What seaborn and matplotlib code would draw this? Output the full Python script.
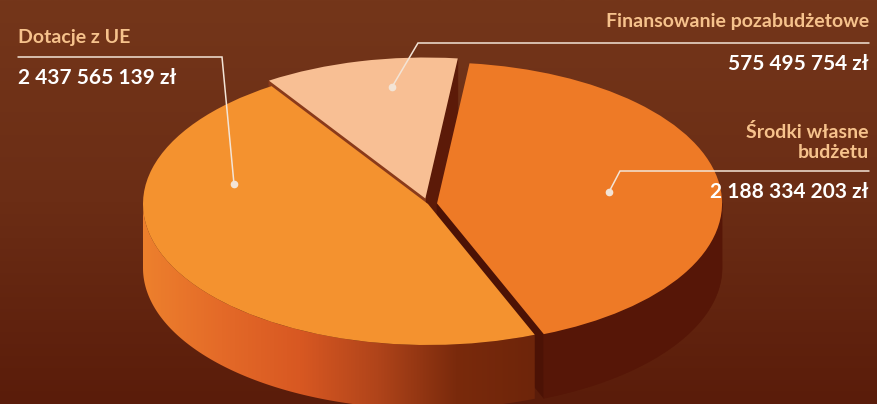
import numpy as np
import matplotlib
matplotlib.use("Agg")
import matplotlib.pyplot as plt
import seaborn as sns
from matplotlib.patches import Polygon
from matplotlib.colors import LinearSegmentedColormap

# ---- data ----
categories = ["Dotacje z UE", "Finansowanie pozabudżetowe", "Środki własne\nbudżetu"]
values = [2437565139, 575495754, 2188334203]
value_labels = ["2 437 565 139 zł", "575 495 754 zł", "2 188 334 203 zł"]

# ---- style ----
top_colors = ["#f4922f", "#f8bf94", "#ee7a26"]
explode = [0.0, 0.04, 0.032]
label_color = "#f6c28c"
line_color = "#f3e4d6"

sns.set_theme(style="white")
plt.rcParams['font.family'] = ['Lato', 'DejaVu Sans']

W, H = 877, 404
fig = plt.figure(figsize=(W / 100, H / 100), dpi=100)

# background gradient
bg = fig.add_axes([0, 0, 1, 1], zorder=0)
bg.set_axis_off()
grad = np.linspace(0, 1, 256)[:, None]
cmap_bg = LinearSegmentedColormap.from_list("bg", ["#74361a", "#6b2d15", "#5a1c0a"])
bg.imshow(grad, aspect='auto', cmap=cmap_bg, extent=[0, 1, 0, 1], origin='upper')

# pie axes, scaled so the unit circle becomes a flat ellipse
cx_px, cy_px, rx, ry = 428, 204, 285, 141
ax = fig.add_axes([0, 0, 1, 1], zorder=1)
ax.patch.set_alpha(0)
wedges, _ = ax.pie(values, colors=top_colors, startangle=292, counterclock=False,
                   explode=explode, wedgeprops=dict(linewidth=0))
ax.set_aspect('auto')
ax.set_axis_off()

t = 64 / ry  # thickness in data units


def rim(c, r, a, b, n=120):
    th = np.radians(np.linspace(a, b, n))
    return np.column_stack([c[0] + r * np.cos(th), c[1] + r * np.sin(th)])


cut_colors = {0: ("#7a2c10", "#7a2c10"), 1: ("#5c1a08", "#8a3a1a"), 2: ("#4c1205", "#4c1205")}
side_plain = {1: "#5a1808", 2: "#561607"}

for i, w in enumerate(wedges):
    w.set_zorder(5)
    c = w.center
    r = w.r
    th1, th2 = w.theta1, w.theta2
    # cut faces
    for ang, nrm, col in ((th1, th1 - 90, cut_colors[i][0]), (th2, th2 + 90, cut_colors[i][1])):
        if np.sin(np.radians(nrm)) < 0:
            p = rim(c, r, ang, ang, 1)[0]
            poly = [c, p, (p[0], p[1] - t), (c[0], c[1] - t)]
            z = 0.5 if i == 1 else 1
            ax.add_patch(Polygon(poly, closed=True, fc=col, ec=col, lw=0.5, zorder=z))
    # outer visible side
    for k in (-360, 0, 360):
        lo, hi = max(th1, 180 + k), min(th2, 360 + k)
        if hi > lo:
            top = rim(c, r, lo, hi)
            bot = top[::-1] - np.array([0, t])
            pts = np.vstack([top, bot])
            if i == 0:
                patch = Polygon(pts, closed=True, fc='none', ec='none', zorder=2)
                ax.add_patch(patch)
                cmap_side = LinearSegmentedColormap.from_list(
                    "side", ["#ed802d", "#e46a28", "#d85822", "#b0441a", "#7a2a0c", "#6e250a"])
                gx = np.linspace(0, 1, 256)[None, :]
                x0, x1 = pts[:, 0].min(), pts[:, 0].max()
                y0, y1 = pts[:, 1].min(), pts[:, 1].max()
                im = ax.imshow(gx, aspect='auto', cmap=cmap_side, extent=[x0, x1, y0, y1],
                               zorder=2, origin='lower')
                im.set_clip_path(patch)
            else:
                col = side_plain[i]
                ax.add_patch(Polygon(pts, closed=True, fc=col, ec=col, lw=0.5, zorder=2))
ax.set_xlim(-cx_px / rx, (W - cx_px) / rx)
ax.set_ylim(-(H - cy_px) / ry, cy_px / ry)

# ---- labels overlay (pixel coordinates) ----
ov = fig.add_axes([0, 0, 1, 1], zorder=10)
ov.patch.set_alpha(0)
ov.set_xlim(0, W)
ov.set_ylim(H, 0)
ov.set_axis_off()

fs = 14
fsn = 15
# Dotacje z UE
ov.text(18, 37, categories[0], ha='left', va='center', color=label_color, fontsize=fs, fontweight='bold')
ov.text(18, 78, value_labels[0], ha='left', va='center', color='white', fontsize=fsn, fontweight='bold')
ov.plot([18, 222, 234], [57, 57, 184], color=line_color, lw=1.1, solid_joinstyle='miter')
ov.plot([234], [184], 'o', color=line_color, ms=4.5)

# Finansowanie pozabudżetowe
ov.text(869, 22, categories[1], ha='right', va='center', color=label_color, fontsize=fs, fontweight='bold')
ov.text(869, 64, value_labels[1], ha='right', va='center', color='white', fontsize=fsn, fontweight='bold')
ov.plot([869, 418, 392], [43, 43, 87], color=line_color, lw=1.1, solid_joinstyle='miter')
ov.plot([392], [87], 'o', color=line_color, ms=4.5)

# Środki własne budżetu
ov.text(869, 142, categories[2], ha='right', va='center', color=label_color, fontsize=fs,
        fontweight='bold', linespacing=1.15, multialignment='right')
ov.text(869, 192, value_labels[2], ha='right', va='center', color='white', fontsize=fsn, fontweight='bold')
ov.plot([869, 620, 609], [171, 171, 192], color=line_color, lw=1.1, solid_joinstyle='miter')
ov.plot([609], [192], 'o', color=line_color, ms=4.5)

fig.savefig("out.png", dpi=100)
